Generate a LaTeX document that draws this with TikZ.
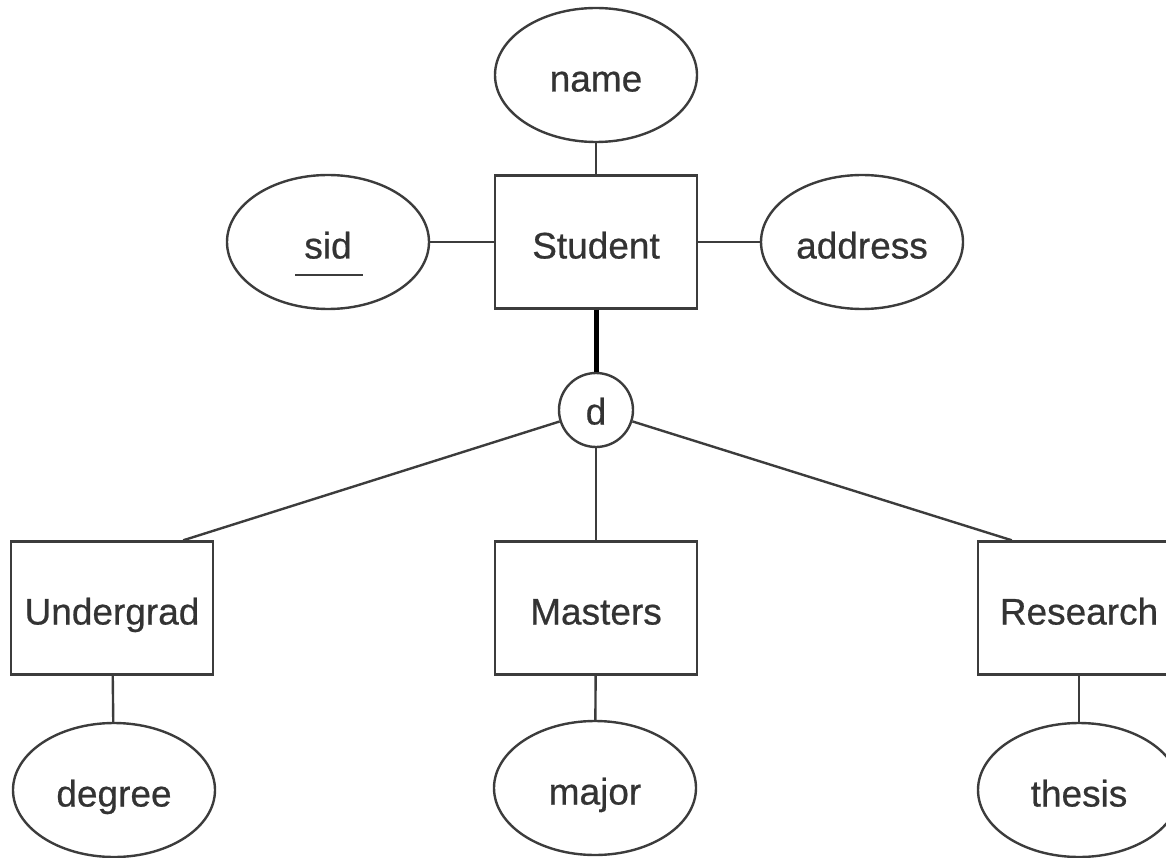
\documentclass[tikz,border=0pt]{standalone}
\usepackage{fontspec}
\setmainfont{Liberation Sans}
\newfontfamily\lblfont{Liberation Sans}[FakeBold=0.6]
\usetikzlibrary{shapes.geometric,calc}
\definecolor{ink}{HTML}{3C3C3C}
\definecolor{txt}{HTML}{333333}
\begin{document}
\begin{tikzpicture}[x=1pt,y=-1pt,
  lbl/.style={font=\lblfont\fontsize{37}{42}\selectfont,text=txt,text height=37pt,text depth=4pt},
  attr/.style={ellipse,draw=ink,line width=2.4pt,minimum width=202pt,minimum height=134pt,inner sep=0pt,lbl},
  entity/.style={rectangle,draw=ink,line width=2.4pt,minimum width=202pt,minimum height=133pt,inner sep=0pt,lbl},
  disj/.style={circle,draw=ink,line width=2.4pt,minimum size=74pt,inner sep=0pt,lbl,text height=33pt,text depth=4pt},
  link/.style={draw=ink,line width=2.4pt},
  strong/.style={draw=black,line width=5pt}]
\clip (0,0) rectangle (1166,858);
\node[entity] (student) at (596,242) {Student};
\node[attr] (name) at (596,75) {name};
\node[attr] (sid) at (328,242) {sid};
\node[attr] (address) at (862,242) {address};
\node[disj] (d) at (596,410) {d};
\node[entity] (ug) at (112,608) {Undergrad};
\node[entity] (ms) at (596,608) {Masters};
\node[entity] (rs) at (1079,608) {Research};
\node[attr] (degree) at (114,790) {degree};
\node[attr] (major) at (595,788) {major};
\node[attr] (thesis) at (1079,790) {thesis};
\coordinate (ugc) at ($(ug.north east)+(-31,0)$);
\coordinate (rsc) at ($(rs.north west)+(35,0)$);
\coordinate (ula) at ($(sid.center)+(-33,33)$);
\coordinate (ulb) at ($(sid.center)+(35,33)$);
\draw[link] (name) -- (student);
\draw[link] (sid) -- (student);
\draw[link] (student) -- (address);
\draw[strong] (student) -- (d);
\draw[link] (d) -- (ms);
\draw[link] (d) -- (ugc);
\draw[link] (d) -- (rsc);
\draw[link] (ug) -- (degree);
\draw[link] (ms) -- (major);
\draw[link] (rs) -- (thesis);
\draw[link,line width=2pt] (ula) -- (ulb);
\end{tikzpicture}
\end{document}
